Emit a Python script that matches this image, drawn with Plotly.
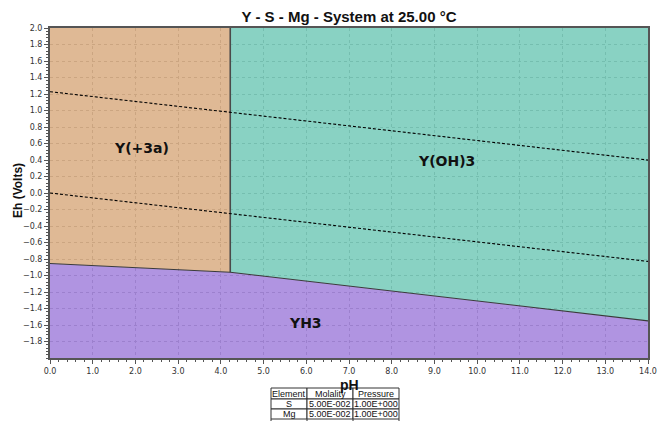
import plotly.graph_objects as go

# ---- data ----
title_text = "Y - S - Mg - System at 25.00 °C"
x_title = "pH"
y_title = "Eh (Volts)"

# region polygons (pH, Eh)
yp3a_ph = [0.0, 4.22, 4.22, 0.0]
yp3a_eh = [2.0, 2.0, -0.96, -0.855]
yoh3_ph = [4.22, 14.0, 14.0, 4.22]
yoh3_eh = [2.0, 2.0, -1.55, -0.96]
yh3_ph = [0.0, 4.22, 14.0, 14.0, 0.0]
yh3_eh = [-0.855, -0.96, -1.55, -2.0, -2.0]

# boundary lines
vert_ph = [4.22, 4.22]
vert_eh = [2.0, -0.96]
low_ph = [0.0, 4.22, 14.0]
low_eh = [-0.855, -0.96, -1.55]

# water stability lines
water_ph = [0.0, 14.0]
water_upper = [1.228, 0.399]
water_lower = [0.0, -0.829]

# region labels
label_text = ["Y(+3a)", "Y(OH)3", "YH3"]
label_ph = [2.15, 9.29, 5.97]
label_eh = [0.545, 0.39, -1.57]

# ticks
x_ticks = [0.0, 1.0, 2.0, 3.0, 4.0, 5.0, 6.0, 7.0, 8.0, 9.0, 10.0, 11.0, 12.0, 13.0, 14.0]
y_ticks = [-1.8, -1.6, -1.4, -1.2, -1.0, -0.8, -0.6, -0.4, -0.2, 0.0,
           0.2, 0.4, 0.6, 0.8, 1.0, 1.2, 1.4, 1.6, 1.8, 2.0]

# info table
table_header = ["Element", "Molality", "Pressure"]
table_rows = [["S", "5.00E-002", "1.00E+000"],
              ["Mg", "5.00E-002", "1.00E+000"]]

# ---- style ----
ALPHA = 0.85
def rgba(c):
    # pre-compensate so that final over white matches c
    f = [max(0, min(255, (v - (1 - ALPHA) * 255) / ALPHA)) for v in c]
    return "rgba(%d,%d,%d,%.2f)" % (f[0], f[1], f[2], ALPHA)

col_tan = rgba((223, 186, 150))
col_teal = rgba((137, 210, 195))
col_purple = rgba((176, 148, 226))

W, H = 665, 421
ML, MR, MT, MB = 50, 17, 28, 63
PW, PH = W - ML - MR, H - MT - MB

def px2paper_x(px):
    return (px - ML) / PW

def px2paper_y(py):
    return (H - MB - py) / PH

fig = go.Figure()
for xs, ys, col in [(yp3a_ph, yp3a_eh, col_tan), (yoh3_ph, yoh3_eh, col_teal),
                    (yh3_ph, yh3_eh, col_purple)]:
    fig.add_trace(go.Scatter(x=xs, y=ys, fill="toself", fillcolor=col,
                             mode="none", hoverinfo="skip", showlegend=False))

fig.add_trace(go.Scatter(x=vert_ph, y=vert_eh, mode="lines",
                         line=dict(color="#4a4a4a", width=1.6), showlegend=False))
fig.add_trace(go.Scatter(x=low_ph, y=low_eh, mode="lines",
                         line=dict(color="#3a3a3a", width=1.1), showlegend=False))
for ys in (water_upper, water_lower):
    fig.add_trace(go.Scatter(x=water_ph, y=ys, mode="lines",
                             line=dict(color="black", width=1.1, dash="3px,2px"),
                             showlegend=False))

for t, x, y in zip(label_text, label_ph, label_eh):
    fig.add_annotation(x=x, y=y, text="<b>%s</b>" % t, showarrow=False,
                       font=dict(family="DejaVu Sans", size=14, color="#111"),
                       xanchor="center", yanchor="middle")

# axis titles as annotations for exact placement
fig.add_annotation(xref="paper", yref="paper", x=px2paper_x(349), y=px2paper_y(376),
                   text="<b>%s</b>" % x_title, showarrow=False, borderpad=0,
                   font=dict(family="Liberation Sans", size=14, color="#111"),
                   xanchor="center", yanchor="top")
fig.add_annotation(xref="paper", yref="paper", x=px2paper_x(18), y=px2paper_y(191),
                   text="<b>%s</b>" % y_title, showarrow=False, textangle=-90,
                   font=dict(family="Liberation Sans", size=12, color="#111"),
                   xanchor="center", yanchor="middle")

# table drawn with shapes + text
col_px = [271, 307, 353, 399]
row_px = [388, 399, 409, 419]
table_all = [table_header] + table_rows
for r, row in enumerate(table_all):
    for c, txt in enumerate(row):
        x0, x1 = col_px[c], col_px[c + 1]
        y0, y1 = row_px[r], row_px[r + 1]
        fig.add_shape(type="rect", xref="paper", yref="paper",
                      x0=px2paper_x(x0), x1=px2paper_x(x1),
                      y0=px2paper_y(y1), y1=px2paper_y(y0),
                      line=dict(color="#333", width=1), fillcolor="white", layer="above")
        fig.add_annotation(xref="paper", yref="paper",
                           x=px2paper_x((x0 + x1) / 2), y=px2paper_y((y0 + y1) / 2),
                           text=txt, showarrow=False,
                           font=dict(family="Liberation Sans", size=9, color="#111"),
                           xanchor="center", yanchor="middle")
# continuing vertical lines of the table below last row
for cx in col_px:
    fig.add_shape(type="line", xref="paper", yref="paper",
                  x0=px2paper_x(cx), x1=px2paper_x(cx),
                  y0=px2paper_y(row_px[-1]), y1=px2paper_y(H + 2),
                  line=dict(color="#333", width=1))

axis_common = dict(
    showline=True, mirror=True, linecolor="#555", linewidth=2,
    ticks="outside", ticklen=4, tickcolor="#555", tickwidth=1,
    showgrid=True, gridcolor="rgba(120,120,120,1)", griddash="dot", gridwidth=1,
    zeroline=False, automargin=False,
    tickfont=dict(family="DejaVu Sans", size=8, color="#333"),
    tickformat=".1f",
)

fig.update_xaxes(range=[0, 14], tickmode="array", tickvals=x_ticks,
                 minor=dict(ticks="outside", dtick=0.2, ticklen=2, tickcolor="#555", showgrid=False),
                 **axis_common)
fig.update_yaxes(range=[-2, 2], tickmode="array", tickvals=y_ticks,
                 minor=dict(ticks="outside", dtick=0.04, tick0=0, ticklen=2, tickcolor="#555", showgrid=False),
                 **axis_common)

fig.update_layout(
    width=W, height=H,
    margin=dict(l=ML, r=MR, t=MT, b=MB, autoexpand=False),
    paper_bgcolor="white", plot_bgcolor="white",
    title=dict(text="<b>%s</b>" % title_text, x=349 / W,
               xanchor="center", y=1 - 17 / H, yanchor="middle", yref="container",
               font=dict(family="Liberation Sans", size=15, color="#111")),
    showlegend=False,
)

fig.write_html("out.html")
